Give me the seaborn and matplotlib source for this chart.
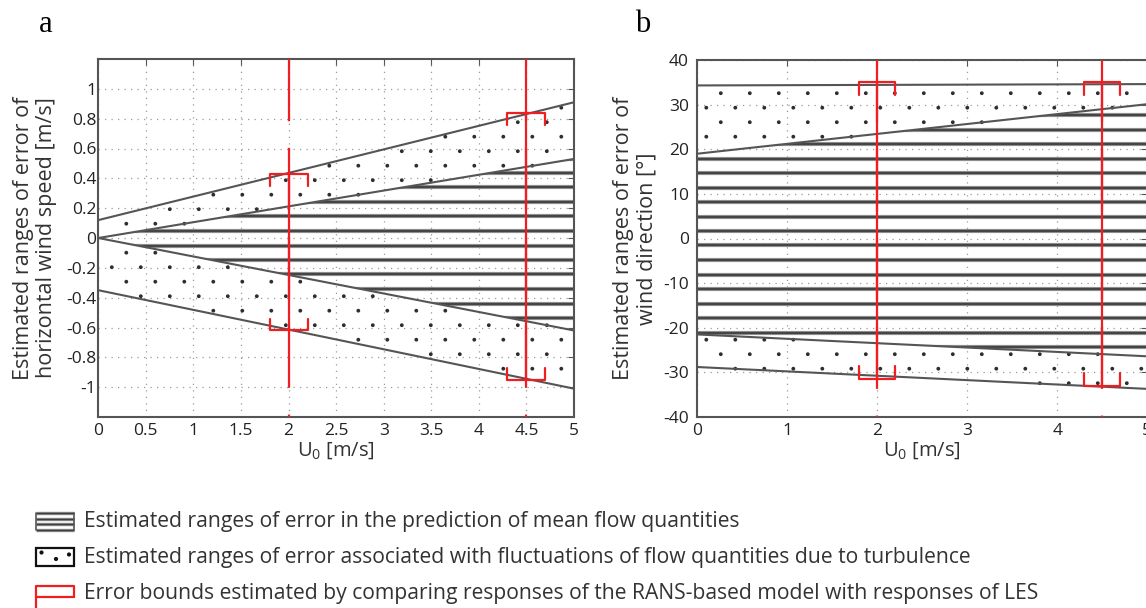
import numpy as np
import pandas as pd
import matplotlib
matplotlib.use("Agg")
import matplotlib.pyplot as plt
import seaborn as sns
from matplotlib.patches import Polygon, Rectangle
from matplotlib.path import Path

W, H, DPI = 1146, 608, 100

# ---------------------------------------------------------------- values
u_ends = [0.0, 5.0]

# horizontal wind speed error bands [m/s] at U0 = 0 and U0 = 5
speed_outer_upper = [0.12, 0.91]
speed_inner_upper = [0.0, 0.53]
speed_inner_lower = [0.0, -0.62]
speed_outer_lower = [-0.35, -1.01]

# wind direction error bands [deg] at U0 = 0 and U0 = 5
dir_outer_upper = [34.3, 34.6]
dir_inner_upper = [19.0, 30.1]
dir_inner_lower = [-21.5, -26.4]
dir_outer_lower = [-28.8, -33.7]

# RANS vs LES error bounds
les_u = [2.0, 4.5]
speed_les_high = [0.43, 0.84]
speed_les_low = [-0.62, -0.95]
dir_les_high = [35.0, 35.0]
dir_les_low = [-31.4, -33.0]

speed_xticks = [0, 0.5, 1, 1.5, 2, 2.5, 3, 3.5, 4, 4.5, 5]
speed_xticklabels = ["0", "0.5", "1", "1.5", "2", "2.5", "3", "3.5", "4", "4.5", "5"]
speed_yticks = [-1, -0.8, -0.6, -0.4, -0.2, 0, 0.2, 0.4, 0.6, 0.8, 1]
speed_yticklabels = ["-1", "-0.8", "-0.6", "-0.4", "-0.2", "0", "0.2", "0.4", "0.6", "0.8", "1"]
dir_xticks = [0, 1, 2, 3, 4, 5]
dir_xticklabels = ["0", "1", "2", "3", "4", "5"]
dir_yticks = [-40, -30, -20, -10, 0, 10, 20, 30, 40]
dir_yticklabels = ["-40", "-30", "-20", "-10", "0", "10", "20", "30", "40"]

legend_labels = [
    "Estimated ranges of error in the prediction of mean flow quantities",
    "Estimated ranges of error associated with fluctuations of flow quantities due to turbulence",
    "Error bounds estimated by comparing responses of the RANS-based model with responses of LES",
]

# ---------------------------------------------------------------- style
sns.set_theme(style="white")
plt.rcParams["font.family"] = ["Open Sans", "DejaVu Sans"]
plt.rcParams["mathtext.fontset"] = "custom"
plt.rcParams["mathtext.rm"] = "Open Sans"
plt.rcParams["mathtext.default"] = "regular"
plt.rcParams["axes.unicode_minus"] = False

LINE = "#555555"
RED = "#f01e23"
TXT = "#222222"

fig = plt.figure(figsize=(W / DPI, H / DPI), dpi=DPI)
fig.patch.set_facecolor("white")


def px_axes(left, top, right, bottom):
    return fig.add_axes([left / W, 1 - bottom / H, (right - left) / W, (bottom - top) / H])


ax_a = px_axes(98.3, 59.0, 574.0, 417.0)
ax_b = px_axes(697.3, 60.0, 1147.3, 417.0)


def stripe_fill(ax, poly_xy):
    """Horizontal hatch lines (shared figure-wide rhythm) clipped to a band."""
    poly = Polygon(poly_xy, closed=True, fc="none", ec="none", transform=ax.transData)
    ax.add_patch(poly)
    inv = ax.transData.inverted()
    bb = ax.bbox
    ytop = 202.0 + 14.5 * np.arange(-20, 40)
    ydisp = H - ytop
    ydisp = ydisp[(ydisp > bb.y0 + 1) & (ydisp < bb.y1 - 1)]
    ydata = inv.transform(np.column_stack([np.full_like(ydisp, bb.x0), ydisp]))[:, 1]
    x0, x1 = ax.get_xlim()
    for lw, c in ((3.0, "#8e8e8e"), (1.3, "#3e3e3e")):
        lc = ax.hlines(ydata, x0, x1, colors=c, lw=lw, zorder=2)
        lc.set_clip_path(poly)


def dot_fill(ax, polys):
    """Staggered dot pattern inside the turbulence bands."""
    inv = ax.transData.inverted()
    pts = []
    for r in range(-20, 40):
        yt = 194.7 + 14.5 * r
        xs = 213.3 + 29.0 * np.arange(-10, 40) + 14.5 * (r % 2)
        pts.append(np.column_stack([xs, np.full_like(xs, H - yt)]))
    pts = np.vstack(pts)
    data = inv.transform(pts)
    mask = np.zeros(len(data), dtype=bool)
    for p in polys:
        mask |= Path(p).contains_points(data)
    sns.scatterplot(x=data[mask, 0], y=data[mask, 1], ax=ax, s=7.5, color="#2e2e2e",
                    edgecolor="none", zorder=2, legend=False)


def panel(ax, outer_up, inner_up, inner_lo, outer_lo, hi, lo, ylim, xticks, xtl,
          yticks, ytl, ylabel, tick_len, ypad):
    ax.set_xlim(0, 5)
    ax.set_ylim(*ylim)
    ax.set_axisbelow(True)
    ax.grid(True, ls=(0, (1, 4.2)), color="#9a9a9a", lw=0.9)

    # bands
    stripe_fill(ax, [(u_ends[0], inner_up[0]), (u_ends[1], inner_up[1]),
                     (u_ends[1], inner_lo[1]), (u_ends[0], inner_lo[0])])
    dot_fill(ax, [
        [(u_ends[0], outer_up[0]), (u_ends[1], outer_up[1]),
         (u_ends[1], inner_up[1]), (u_ends[0], inner_up[0])],
        [(u_ends[0], inner_lo[0]), (u_ends[1], inner_lo[1]),
         (u_ends[1], outer_lo[1]), (u_ends[0], outer_lo[0])],
    ])

    # band edges
    df = pd.DataFrame({
        "u": u_ends * 4,
        "value": outer_up + inner_up + inner_lo + outer_lo,
        "edge": ["ou"] * 2 + ["iu"] * 2 + ["il"] * 2 + ["ol"] * 2,
    })
    sns.lineplot(data=df, x="u", y="value", units="edge", estimator=None,
                 color=LINE, lw=1.5, ax=ax, zorder=3)

    # LES error bounds: dashed guide from the top edge, solid between brackets
    half = 0.2
    for u, h, l in zip(les_u, hi, lo):
        ax.plot([u, u], [ylim[1], ylim[0]], color=RED, lw=1.6, ls=(0, (28, 12)),
                zorder=4, dash_capstyle="butt")
        ax.plot([u, u], [l, h], color=RED, lw=1.6, zorder=4, solid_capstyle="butt")
        ax.plot([u - half, u - half, u + half, u + half],
                [h - tick_len, h, h, h - tick_len], color=RED, lw=1.6, zorder=4)
        ax.plot([u - half, u - half, u + half, u + half],
                [l + tick_len, l, l, l + tick_len], color=RED, lw=1.6, zorder=4)

    ax.set_xlim(0, 5)
    ax.set_ylim(*ylim)
    ax.set_xticks(xticks)
    ax.set_xticklabels(xtl)
    ax.set_yticks(yticks)
    ax.set_yticklabels(ytl)
    ax.tick_params(axis="both", direction="in", length=4, width=0.8, color=LINE,
                   labelsize=12.5, labelcolor=TXT, top=True, right=True)
    ax.tick_params(axis="y", pad=ypad)
    ax.tick_params(axis="x", pad=4.5)
    for s in ax.spines.values():
        s.set_color(LINE)
        s.set_linewidth(1.5)
        s.set_visible(True)

    ax.set_xlabel(r"U$_{0}$ [m/s]", fontsize=14.5, color="#333333", va="center")
    ax.xaxis.set_label_coords(0.5, -(451 - 417) / 358)
    ax.set_ylabel(ylabel, fontsize=15.5, color="#333333", va="center",
                  multialignment="center", linespacing=1.15)


panel(ax_a, speed_outer_upper, speed_inner_upper, speed_inner_lower, speed_outer_lower,
      speed_les_high, speed_les_low, (-1.2, 1.2), speed_xticks, speed_xticklabels,
      speed_yticks, speed_yticklabels,
      "Estimated ranges of error of\nhorizontal wind speed [m/s]", 0.08, 1.5)
ax_a.yaxis.set_label_coords((35 - 98.3) / 475.7, 0.5)

panel(ax_b, dir_outer_upper, dir_inner_upper, dir_inner_lower, dir_outer_lower,
      dir_les_high, dir_les_low, (-40, 40), dir_xticks, dir_xticklabels,
      dir_yticks, dir_yticklabels,
      "Estimated ranges of error of\nwind direction [°]", 2.8, 6)
ax_b.yaxis.set_label_coords((635 - 697.3) / 450, 0.5)

# panel letters
fig.text(46 / W, 1 - 32 / H, "a", family="Liberation Serif", fontsize=22,
         ha="center", va="baseline", color="black")
fig.text(643 / W, 1 - 32 / H, "b", family="Liberation Serif", fontsize=22,
         ha="center", va="baseline", color="black")

# ---------------------------------------------------------------- legend
leg = fig.add_axes([0, 0, 1, 1])
leg.set_xlim(0, W)
leg.set_ylim(H, 0)
leg.axis("off")

rows_y = [521, 557, 594]
ix0, ix1 = 36, 74

# mean-flow stripes icon
for yy in np.linspace(513, 530, 4):
    leg.plot([ix0, ix1], [yy, yy], color="#8e8e8e", lw=2.4, solid_capstyle="butt")
    leg.plot([ix0, ix1], [yy, yy], color="#3e3e3e", lw=1.0, solid_capstyle="butt")
leg.plot([ix0, ix0], [513, 530], color="#555555", lw=1.2)
leg.plot([ix1, ix1], [513, 530], color="#555555", lw=1.2)

# turbulence dots icon
leg.add_patch(Rectangle((ix0, 548), ix1 - ix0, 18, fc="white", ec="#111111", lw=1.6))
leg.scatter([41.5, 56, 69], [552.5, 559, 554.5], s=9, color="#111111", edgecolor="none")

# error-bound icon
leg.plot([ix0, ix0, ix1, ix1], [608, 586, 586, 597], color=RED, lw=1.6)
leg.plot([ix0, ix1], [597, 597], color=RED, lw=1.6)

for yy, lab in zip(rows_y, legend_labels):
    leg.text(84, yy, lab, fontsize=15.2, color="#333333", va="center", ha="left")

fig.savefig("out.png", dpi=DPI, facecolor="white")
